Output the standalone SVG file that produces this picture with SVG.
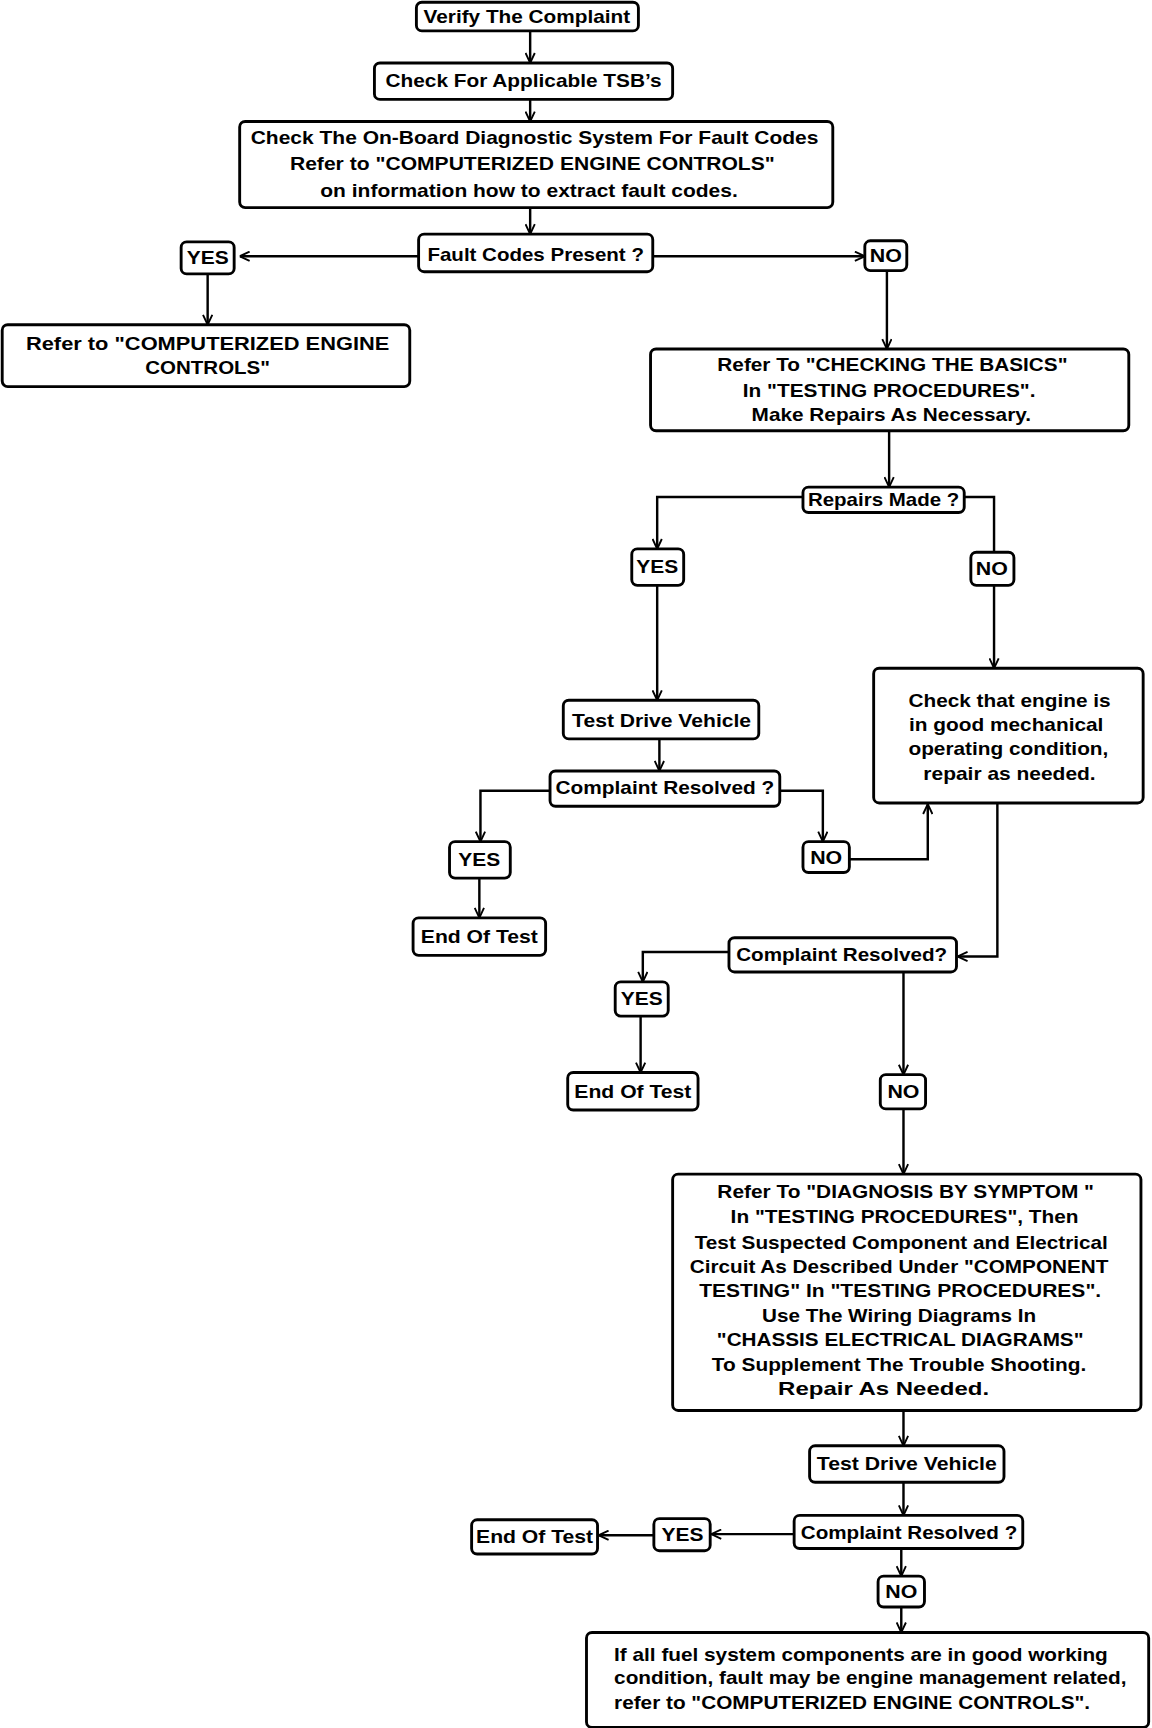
<svg xmlns="http://www.w3.org/2000/svg" width="1152" height="1728" viewBox="0 0 1152 1728">
<style>
.b{fill:#fff;stroke:#000;stroke-width:2.6}
.t{font-family:"Liberation Sans",Arial,sans-serif;font-weight:bold;font-size:17px;fill:#000;text-anchor:middle}
.l{text-anchor:start}
.c{fill:none;stroke:#000;stroke-width:2.2}
</style>
<defs>
<marker id="ah" viewBox="0 0 10 10" refX="10" refY="5" markerWidth="10" markerHeight="10" markerUnits="userSpaceOnUse" orient="auto">
<path d="M1,0.8 L10,5 L1,9.2" fill="none" stroke="#000" stroke-width="1.7"/>
</marker>
</defs>
<rect width="1152" height="1728" fill="#fff"/>
<g transform="scale(1.1045)">
<g id="connectors">
<path class="c" d="M480,28 V57" marker-end="url(#ah)"/>
<path class="c" d="M480,90 V110" marker-end="url(#ah)"/>
<path class="c" d="M480,188 V212" marker-end="url(#ah)"/>
<path class="c" d="M379,232 H217" marker-end="url(#ah)"/>
<path class="c" d="M591,232 H783" marker-end="url(#ah)"/>
<path class="c" d="M188,248 V294" marker-end="url(#ah)"/>
<path class="c" d="M803,245 V316" marker-end="url(#ah)"/>
<path class="c" d="M805,390 V441" marker-end="url(#ah)"/>
<path class="c" d="M727,450 H595 V497" marker-end="url(#ah)"/>
<path class="c" d="M873,450 H900 V500"/>
<path class="c" d="M900,530 V605" marker-end="url(#ah)"/>
<path class="c" d="M595,530 V634" marker-end="url(#ah)"/>
<path class="c" d="M597,669 V698" marker-end="url(#ah)"/>
<path class="c" d="M498,716 H435 V762" marker-end="url(#ah)"/>
<path class="c" d="M434,795 V831" marker-end="url(#ah)"/>
<path class="c" d="M706,716 H745 V762" marker-end="url(#ah)"/>
<path class="c" d="M769,778 H840 V728" marker-end="url(#ah)"/>
<path class="c" d="M903,727 V866 H867" marker-end="url(#ah)"/>
<path class="c" d="M660,862 H582 V889" marker-end="url(#ah)"/>
<path class="c" d="M580,920 V971" marker-end="url(#ah)"/>
<path class="c" d="M818,880 V973" marker-end="url(#ah)"/>
<path class="c" d="M818,1004 V1063" marker-end="url(#ah)"/>
<path class="c" d="M818,1277 V1309" marker-end="url(#ah)"/>
<path class="c" d="M818,1342 V1372" marker-end="url(#ah)"/>
<path class="c" d="M719,1389 H644" marker-end="url(#ah)"/>
<path class="c" d="M592,1390 H542" marker-end="url(#ah)"/>
<path class="c" d="M816,1402 V1427" marker-end="url(#ah)"/>
<path class="c" d="M816,1455 V1478" marker-end="url(#ah)"/>
</g>
<g id="n1"><rect class="b" x="377" y="2" width="201" height="26" rx="5"/><text class="t" x="477" y="21" textLength="187" lengthAdjust="spacingAndGlyphs">Verify The Complaint</text></g>
<g id="n2"><rect class="b" x="339" y="57" width="270" height="33" rx="5"/><text class="t" x="474" y="79" textLength="250" lengthAdjust="spacingAndGlyphs">Check For Applicable TSB’s</text></g>
<g id="n3"><rect class="b" x="217" y="110" width="537" height="78" rx="5"/>
<text class="t" x="484" y="130" textLength="514" lengthAdjust="spacingAndGlyphs">Check The On-Board Diagnostic System For  Fault Codes</text>
<text class="t" x="482" y="154" textLength="439" lengthAdjust="spacingAndGlyphs">Refer to  "COMPUTERIZED  ENGINE CONTROLS"</text>
<text class="t" x="479" y="178" textLength="378" lengthAdjust="spacingAndGlyphs">on information how to extract fault codes.</text></g>
<g id="n4"><rect class="b" x="379" y="212" width="212" height="34" rx="5"/><text class="t" x="485" y="236" textLength="196" lengthAdjust="spacingAndGlyphs">Fault Codes Present ?</text></g>
<g id="n5"><rect class="b" x="164" y="219" width="48" height="29" rx="5"/><text class="t" x="188" y="239" textLength="38" lengthAdjust="spacingAndGlyphs">YES</text></g>
<g id="n6"><rect class="b" x="783" y="218" width="38" height="27" rx="5"/><text class="t" x="802" y="237" textLength="29" lengthAdjust="spacingAndGlyphs">NO</text></g>
<g id="n7"><rect class="b" x="2" y="294" width="369" height="56" rx="5"/>
<text class="t" x="188" y="317" textLength="329" lengthAdjust="spacingAndGlyphs">Refer  to  "COMPUTERIZED  ENGINE</text>
<text class="t" x="188" y="339" textLength="113" lengthAdjust="spacingAndGlyphs">CONTROLS"</text></g>
<g id="n8"><rect class="b" x="589" y="316" width="433" height="74" rx="5"/>
<text class="t" x="808" y="336" textLength="317" lengthAdjust="spacingAndGlyphs">Refer To "CHECKING THE BASICS"</text>
<text class="t" x="805" y="359" textLength="265" lengthAdjust="spacingAndGlyphs">In "TESTING PROCEDURES".</text>
<text class="t" x="807" y="381" textLength="253" lengthAdjust="spacingAndGlyphs">Make Repairs As Necessary.</text></g>
<g id="n9"><rect class="b" x="727" y="441" width="146" height="23" rx="5"/><text class="t" x="800" y="458" textLength="137" lengthAdjust="spacingAndGlyphs">Repairs Made ?</text></g>
<g id="n10"><rect class="b" x="572" y="497" width="47" height="33" rx="5"/><text class="t" x="595" y="519" textLength="38" lengthAdjust="spacingAndGlyphs">YES</text></g>
<g id="n11"><rect class="b" x="879" y="500" width="39" height="30" rx="5"/><text class="t" x="898" y="521" textLength="29" lengthAdjust="spacingAndGlyphs">NO</text></g>
<g id="n12"><rect class="b" x="791" y="605" width="244" height="122" rx="5"/>
<text class="t" x="914" y="640" textLength="183" lengthAdjust="spacingAndGlyphs">Check that engine is</text>
<text class="t" x="911" y="662" textLength="176" lengthAdjust="spacingAndGlyphs">in good mechanical</text>
<text class="t" x="913" y="684" textLength="181" lengthAdjust="spacingAndGlyphs">operating condition,</text>
<text class="t" x="914" y="706" textLength="156" lengthAdjust="spacingAndGlyphs">repair as needed.</text></g>
<g id="n13"><rect class="b" x="510" y="634" width="177" height="35" rx="5"/><text class="t" x="599" y="658" textLength="162" lengthAdjust="spacingAndGlyphs">Test Drive Vehicle</text></g>
<g id="n14"><rect class="b" x="498" y="698" width="208" height="32" rx="5"/><text class="t" x="602" y="719" textLength="198" lengthAdjust="spacingAndGlyphs">Complaint Resolved ?</text></g>
<g id="n15"><rect class="b" x="407" y="762" width="55" height="33" rx="5"/><text class="t" x="434" y="784" textLength="38" lengthAdjust="spacingAndGlyphs">YES</text></g>
<g id="n16"><rect class="b" x="374" y="831" width="120" height="34" rx="5"/><text class="t" x="434" y="854" textLength="106" lengthAdjust="spacingAndGlyphs">End Of Test</text></g>
<g id="n17"><rect class="b" x="727" y="762" width="42" height="28" rx="5"/><text class="t" x="748" y="782" textLength="29" lengthAdjust="spacingAndGlyphs">NO</text></g>
<g id="n18"><rect class="b" x="660" y="849" width="206" height="31" rx="5"/><text class="t" x="762" y="870" textLength="191" lengthAdjust="spacingAndGlyphs">Complaint Resolved?</text></g>
<g id="n19"><rect class="b" x="557" y="889" width="48" height="31" rx="5"/><text class="t" x="581" y="910" textLength="38" lengthAdjust="spacingAndGlyphs">YES</text></g>
<g id="n20"><rect class="b" x="514" y="971" width="118" height="34" rx="5"/><text class="t" x="573" y="994" textLength="106" lengthAdjust="spacingAndGlyphs">End Of Test</text></g>
<g id="n21"><rect class="b" x="797" y="973" width="41" height="31" rx="5"/><text class="t" x="818" y="994" textLength="29" lengthAdjust="spacingAndGlyphs">NO</text></g>
<g id="n22"><rect class="b" x="609" y="1063" width="424" height="214" rx="5"/>
<text class="t" x="820" y="1085" textLength="341" lengthAdjust="spacingAndGlyphs">Refer To "DIAGNOSIS BY SYMPTOM "</text>
<text class="t" x="819" y="1107" textLength="315" lengthAdjust="spacingAndGlyphs">In "TESTING PROCEDURES", Then</text>
<text class="t" x="816" y="1131" textLength="374" lengthAdjust="spacingAndGlyphs">Test Suspected Component and Electrical</text>
<text class="t" x="814" y="1153" textLength="379" lengthAdjust="spacingAndGlyphs">Circuit As Described Under "COMPONENT</text>
<text class="t" x="815" y="1174" textLength="364" lengthAdjust="spacingAndGlyphs">TESTING"  In "TESTING PROCEDURES".</text>
<text class="t" x="814" y="1197" textLength="248" lengthAdjust="spacingAndGlyphs">Use The Wiring Diagrams In</text>
<text class="t" x="815" y="1219" textLength="332" lengthAdjust="spacingAndGlyphs">"CHASSIS ELECTRICAL DIAGRAMS"</text>
<text class="t" x="814" y="1241" textLength="339" lengthAdjust="spacingAndGlyphs">To Supplement The Trouble Shooting.</text>
<text class="t" x="800" y="1263" textLength="191" lengthAdjust="spacingAndGlyphs">Repair As Needed.</text></g>
<g id="n23"><rect class="b" x="733" y="1309" width="176" height="33" rx="5"/><text class="t" x="821" y="1331" textLength="163" lengthAdjust="spacingAndGlyphs">Test Drive Vehicle</text></g>
<g id="n24"><rect class="b" x="719" y="1372" width="207" height="30" rx="5"/><text class="t" x="823" y="1393" textLength="196" lengthAdjust="spacingAndGlyphs">Complaint Resolved ?</text></g>
<g id="n25"><rect class="b" x="592" y="1375" width="51" height="29" rx="5"/><text class="t" x="618" y="1395" textLength="38" lengthAdjust="spacingAndGlyphs">YES</text></g>
<g id="n26"><rect class="b" x="427" y="1376" width="114" height="31" rx="5"/><text class="t" x="484" y="1397" textLength="106" lengthAdjust="spacingAndGlyphs">End Of Test</text></g>
<g id="n27"><rect class="b" x="795" y="1427" width="42" height="28" rx="5"/><text class="t" x="816" y="1447" textLength="29" lengthAdjust="spacingAndGlyphs">NO</text></g>
<g id="n28"><rect class="b" x="531" y="1478" width="509" height="86" rx="5"/>
<text class="t l" x="556" y="1504" textLength="447" lengthAdjust="spacingAndGlyphs">If all fuel system components are in good working</text>
<text class="t l" x="556" y="1525" textLength="464" lengthAdjust="spacingAndGlyphs">condition, fault may be engine management related,</text>
<text class="t l" x="556" y="1547" textLength="431" lengthAdjust="spacingAndGlyphs">refer to "COMPUTERIZED ENGINE CONTROLS".</text></g>
</g>
</svg>
